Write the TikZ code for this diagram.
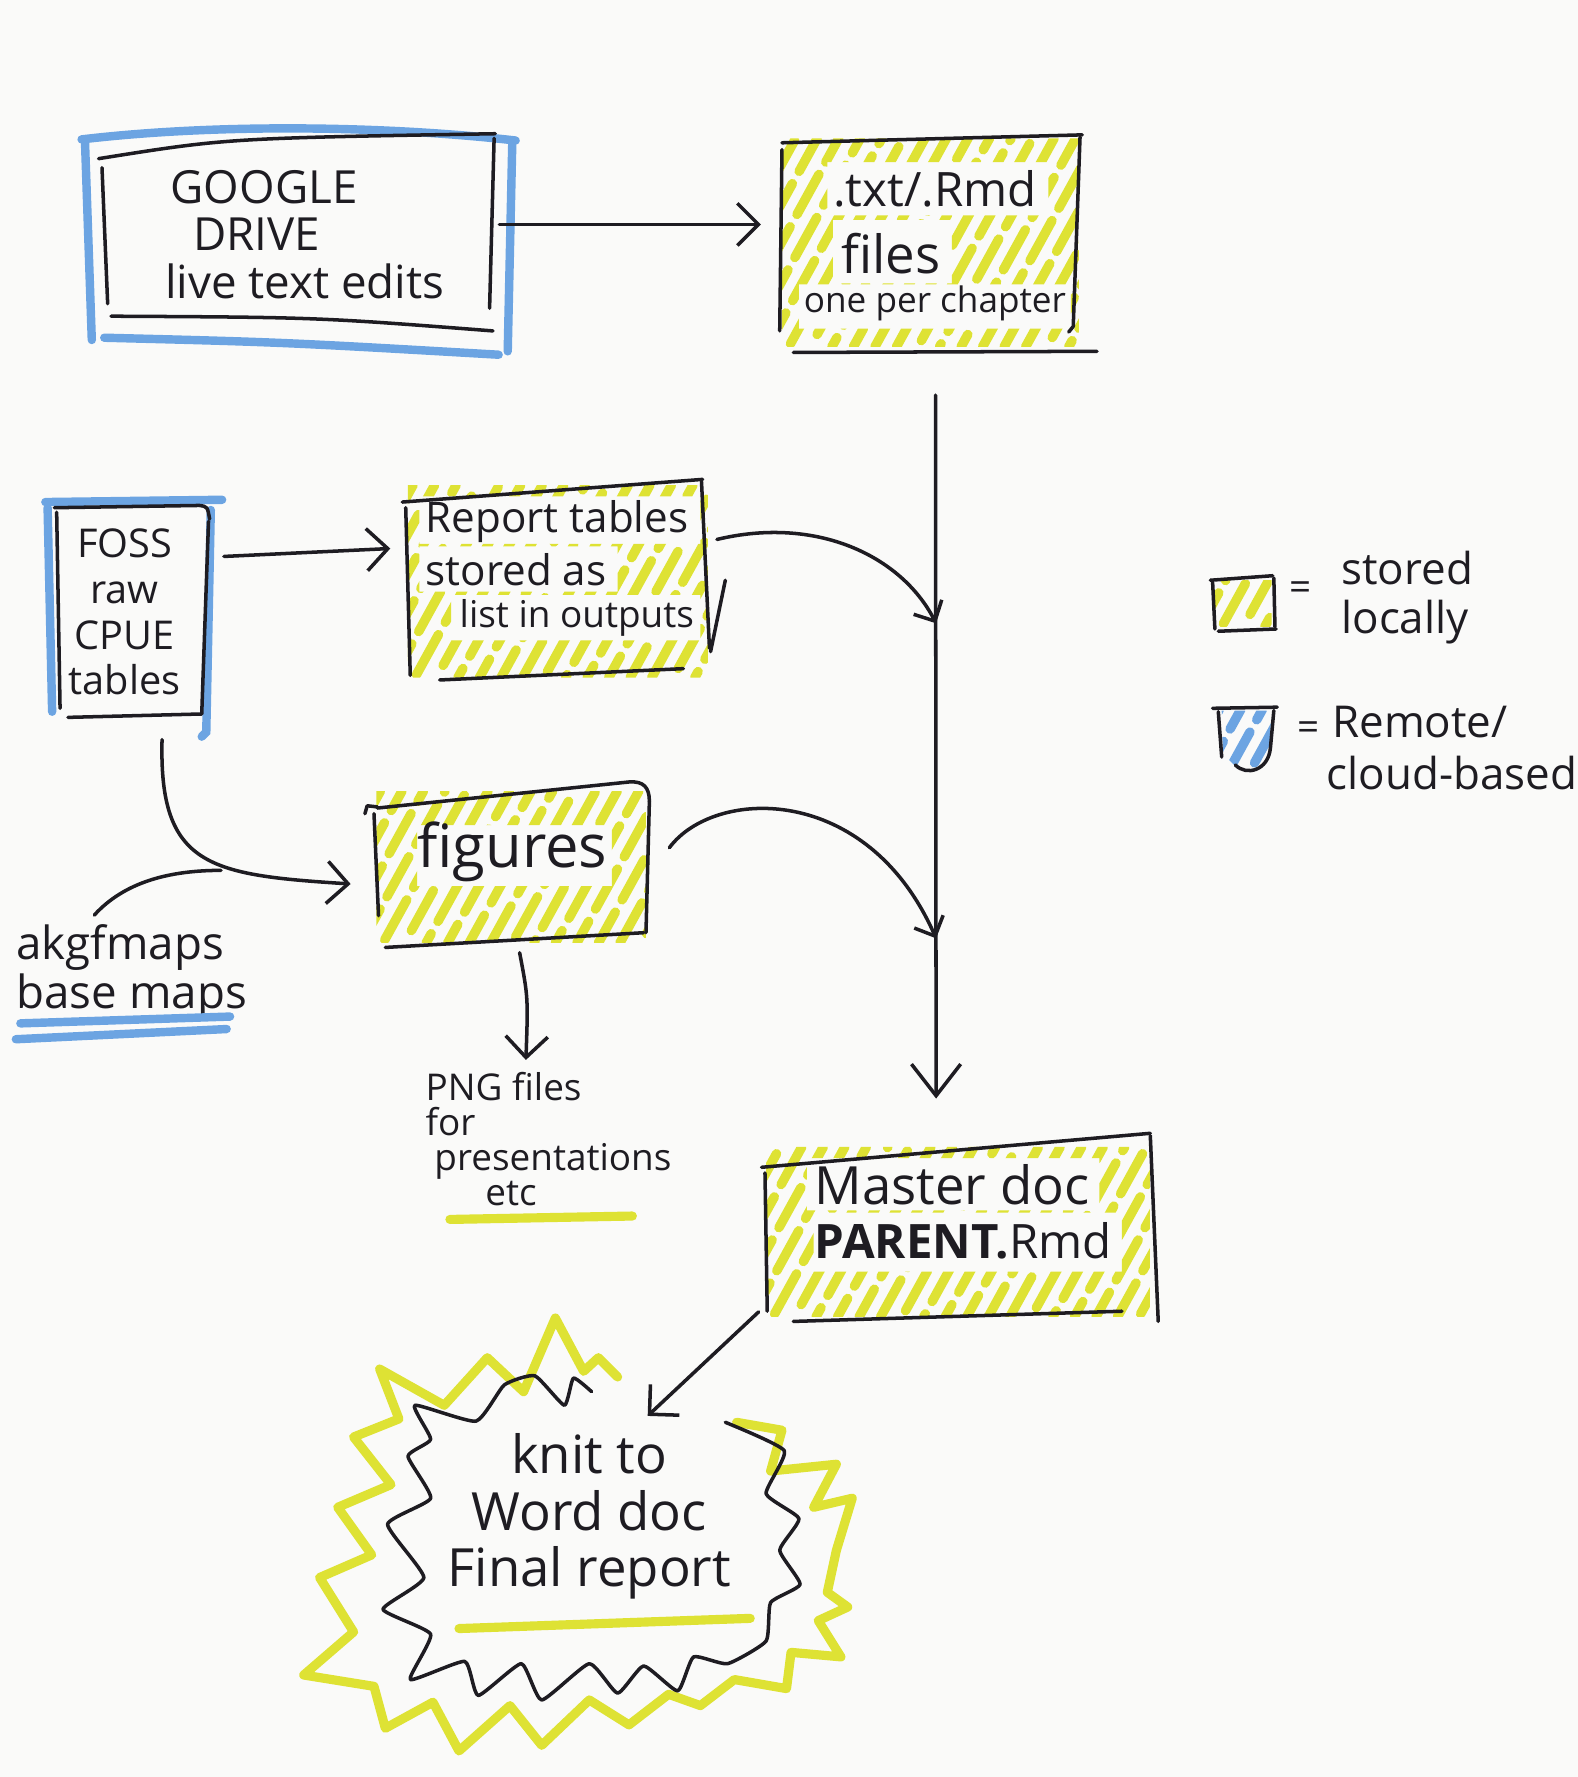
\documentclass[tikz,border=0pt]{standalone}
\usepackage{fontspec}
\setmainfont{Open Sans}
\usetikzlibrary{arrows.meta,calc,fit}
\definecolor{bg}{RGB}{250,250,249}
\definecolor{ink}{RGB}{30,28,34}
\definecolor{hly}{RGB}{222,226,52}
\definecolor{hlb}{RGB}{108,164,226}
\newcommand\fsz[2]{\fontsize{#1}{#2}\selectfont}
% hatch strokes inside rectangle x1,y1,x2,y2 (y downwards)
\newcommand\hatchlines[5]{%
  \begin{scope}
  \clip (#2,#3) rectangle (#4,#5);
  \foreach \i in {-260,-241,...,420}{%
    \pgfmathsetmacro\ph{mod(\i*7+3000,17)}
    \draw[#1, line width=2.7pt, line cap=round, dash pattern=on 13pt off 4pt, dash phase=\ph pt]
      (#2+\i,#5) -- ++(0.55*#5-0.55*#3,#3-#5);}
  \end{scope}}
\begin{document}
\begin{tikzpicture}[x=0.011336cm,y=-0.011336cm,
  pen/.style={draw=ink,line width=1pt,line cap=round,line join=round},
  bluem/.style={draw=hlb,line width=2.4pt,line cap=round},
  yelm/.style={draw=hly,line width=2.6pt,line cap=round,line join=round},
  arr/.style={pen,-{Straight Barb[length=6pt,width=12pt]}},
  arrs/.style={pen,-{Straight Barb[length=4.5pt,width=9pt]}},
  txtn/.style={inner sep=0pt,text=ink},
  area/.style={inner sep=0pt}]
\fill[bg] (0,0) rectangle (1392,1568);
\useasboundingbox (0,0) rectangle (1392,1568);

% ---------------- Google Drive
\node[area, fit={(88,118) (437,292)}] (gdrive) {};
\draw[bluem] (72,123) .. controls (200,108) and (350,112) .. (455,124);
\draw[bluem] (75,125) -- (81,300);
\draw[bluem] (92,298) .. controls (250,302) .. (440,313);
\draw[bluem] (452,127) -- (448,310);
\draw[pen] (87,140) .. controls (200,122) .. (437,118);
\draw[pen] (90,148) -- (95,268);
\draw[pen] (436,122) -- (432,272);
\draw[pen] (98,279) .. controls (280,280) .. (435,292);
\node[txtn, align=left, anchor=west, font=\fsz{13}{13.5}] (gdtext) at (145,207)
  {\hspace*{1.6pt}GOOGLE\\\hspace*{8pt}DRIVE\\live text edits};

% ---------------- .txt/.Rmd files
\node[area, fit={(688,118) (955,310)}] (txt) {};
\begin{scope}
  \clip (690,122) rectangle (952,306) (925,143) rectangle (730,190)
     (840,194) rectangle (735,250) (945,251) rectangle (705,290);
  \hatchlines{hly}{690}{122}{952}{306}
\end{scope}
\draw[pen] (690,126) -- (955,119);
\draw[pen] (690,132) -- (688,292);
\draw[pen] (953,121) -- (947,288) -- (943,293);
\draw[pen] (700,311) -- (968,310);
\node[txtn, font=\fsz{13.5}{14}] (txt1) at (825,167) {.txt/.Rmd};
\node[txtn, font=\fsz{15}{15}] (txt2) at (786,224) {files};
\node[txtn, font=\fsz{10}{10}] (txt3) at (825,268) {one per chapter};

% ---------------- Report tables
\node[area, fit={(355,422) (630,600)}] (report) {};
\begin{scope}
  \clip (360,428) rectangle (625,598) (618,438) rectangle (370,480)
     (545,482) rectangle (370,522) (618,525) rectangle (398,565);
  \hatchlines{hly}{360}{428}{625}{598}
\end{scope}
\draw[pen] (355,443) -- (620,423);
\draw[pen] (358,448) -- (362,596);
\draw[pen] (619,425) -- (626,572);
\draw[pen] (640,512) -- (627,575);
\draw[pen] (388,600) -- (603,590);
\node[txtn, anchor=west, font=\fsz{12}{12}] (rep1) at (375,460) {Report tables};
\node[txtn, anchor=west, font=\fsz{12}{12}] (rep2) at (375,503) {stored as};
\node[txtn, anchor=west, font=\fsz{10.5}{10.5}] (rep3) at (405,545) {list in outputs};

% ---------------- FOSS
\node[area, fit={(40,440) (195,648)}] (foss) {};
\draw[bluem] (40,443) -- (196,441);
\draw[bluem] (42,448) -- (46,628);
\draw[bluem] (186,450) -- (182,646) -- (178,650);
\draw[pen] (48,448) -- (176,446) .. controls (183,447) .. (185,458);
\draw[pen] (184,460) -- (178,630);
\draw[pen] (50,452) -- (53,625);
\draw[pen] (60,633) -- (178,630);
\node[txtn, align=center, font=\fsz{11.3}{13}] (fosstext) at (110,540) {FOSS\\raw\\CPUE\\tables};

% ---------------- figures
\node[area, fit={(322,690) (575,838)}] (figs) {};
\begin{scope}
  \clip (332,698) rectangle (570,832) (540,728) rectangle (368,782);
  \hatchlines{hly}{332}{698}{570}{832}
\end{scope}
\draw[pen] (333,713) -- (555,690) .. controls (568,689) and (573,695) .. (573,707);
\draw[pen] (573,707) -- (570,823);
\draw[pen] (330,718) -- (334,808);
\draw[pen] (322,718) -- (324,711) -- (333,712);
\draw[pen] (340,836) -- (568,823);
\node[txtn, font=\fsz{17}{17}] (figtext) at (452,752) {figures};

% ---------------- PNG files
\node[txtn, align=left, anchor=west, font=\fsz{10.5}{10}] (png) at (375,1005)
  {PNG files\\for\\\hspace*{2.5pt}presentations\\\hspace*{17pt}etc};
\draw[yelm] (397,1076) -- (558,1073);

% ---------------- akgfmaps
\node[txtn, align=left, anchor=west, font=\fsz{13}{12}] (akgf) at (14,858) {akgfmaps\\base maps};
\draw[bluem] (18,903) -- (203,897);
\draw[bluem] (14,917) -- (200,908);

% ---------------- Master doc
\node[area, fit={(670,998) (1024,1168)}] (master) {};
\begin{scope}
  \clip (676,1012) rectangle (1015,1162) (970,1022) rectangle (712,1068)
     (990,1070) rectangle (718,1122);
  \hatchlines{hly}{676}{1012}{1015}{1162}
\end{scope}
\draw[pen] (672,1030) -- (1015,1000);
\draw[pen] (1015,1002) -- (1022,1166);
\draw[pen] (675,1035) -- (677,1157);
\draw[pen] (700,1166) -- (990,1157);
\node[txtn, font=\fsz{15}{15}] (mast1) at (840,1045) {Master doc};
\node[txtn, font=\fsz{13.5}{13.5}] (mast2) at (850,1095) {\textbf{PARENT.}Rmd};

% ---------------- legend
\node[area, fit={(1066,506) (1127,559)}] (legy) {};
\hatchlines{hly}{1072}{512}{1122}{553}
\draw[pen] (1068,512) -- (1123,508);
\draw[pen] (1070,514) -- (1072,555);
\draw[pen] (1124,510) -- (1125,553);
\draw[pen] (1075,557) -- (1126,555);
\node[txtn, font=\fsz{11}{11}] (eq1) at (1148,522) {=};
\node[txtn, align=left, anchor=west, font=\fsz{12.5}{14}] (legytext) at (1183,527) {stored\\locally};

\node[area, fit={(1068,622) (1128,686)}] (legb) {};
\begin{scope}
  \clip (1078,627) -- (1122,627) -- (1120,662) .. controls (1118,680) and (1100,684) .. (1090,676) -- (1079,665) -- cycle;
  \hatchlines{hlb}{1076}{626}{1124}{684}
\end{scope}
\draw[pen] (1070,625) -- (1127,624);
\draw[pen] (1075,628) -- (1078,668);
\draw[pen] (1124,627) -- (1121,660) .. controls (1119,680) and (1100,685) .. (1090,675);
\node[txtn, font=\fsz{11}{11}] (eq2) at (1155,645) {=};
\node[txtn, align=left, anchor=west, font=\fsz{12.5}{15}] (legbtext) at (1170,660) {\hspace*{1.6pt}Remote/\\cloud-based};

% ---------------- starburst
\node[area, fit={(268,1163) (757,1545)}] (knit) {};
\draw[yelm] (650,1255) -- (690,1262) -- (680,1298) -- (738,1292) -- (718,1330) -- (752,1322)
  -- (738,1368) -- (730,1405) -- (748,1418) -- (722,1430) -- (742,1462) -- (698,1458)
  -- (694,1490) -- (648,1482) -- (618,1505) -- (590,1495) -- (555,1522) -- (520,1500)
  -- (478,1540) -- (450,1505) -- (405,1545) -- (382,1502) -- (340,1525) -- (330,1488)
  -- (268,1478) -- (312,1440) -- (282,1392) -- (328,1372) -- (298,1330) -- (345,1310)
  -- (312,1268) -- (352,1252) -- (335,1208) -- (392,1240) -- (430,1198) -- (462,1228)
  -- (490,1163) -- (515,1210) -- (528,1198) -- (545,1215);
\draw[pen] plot[smooth, tension=0.3] coordinates {(640,1255) (692,1280) (676,1318) (705,1340)
  (688,1368) (706,1398) (680,1414) (676,1448) (642,1468) (612,1462) (598,1492) (568,1470)
  (545,1494) (520,1468) (478,1500) (460,1468) (422,1496) (410,1466) (362,1482) (380,1442)
  (338,1420) (374,1392) (342,1345) (380,1322) (360,1285) (380,1270) (366,1240) (420,1254)
  (445,1222) (472,1214) (498,1240) (506,1216) (522,1228)};
\node[txtn, align=center, font=\fsz{15}{16}] (knittext) at (520,1338) {knit to\\Word doc\\Final report};
\draw[yelm] (405,1437) -- (662,1428);

% ---------------- connectors
\coordinate (j1) at (826,550);
\coordinate (j2) at (826,828);
\coordinate (jk) at (195,768);
\draw[arr] ($(gdrive.east)+(3,-7)$) -- ($(txt.west)+(-16,-16)$);
\draw[arr] ($(foss.east)+(2,-53)$) -- ($(report.west)+(-10,-27)$);
\draw[pen,-{Straight Barb[length=9pt,width=14pt]}] ($(txt.south)+(4,38)$) -- ($(master.north)+(-21,-28)$);
\draw[arrs] ($(report.east)+(2,-35)$) .. controls (720,455) and (795,490) .. (j1);
\draw[arrs] ($(figs.east)+(15,-16)$) .. controls (630,695) and (765,690) .. (j2);
\draw[arr] ($(foss.south)+(25.5,4)$) .. controls (140,765) and (185,772) .. ($(figs.west)+(-12,16)$);
\draw[pen] ($(akgf.north)+(-33,-8)$) .. controls (110,778) and (150,768) .. (jk);
\draw[arr] ($(figs.south)+(10,2)$) .. controls (466,880) .. ($(png.north)+(-20,-10)$);
\draw[arr] ($(master.south west)+(0,-11)$) -- ($(knit.north)+(59,87)$);
\end{tikzpicture}
\end{document}
